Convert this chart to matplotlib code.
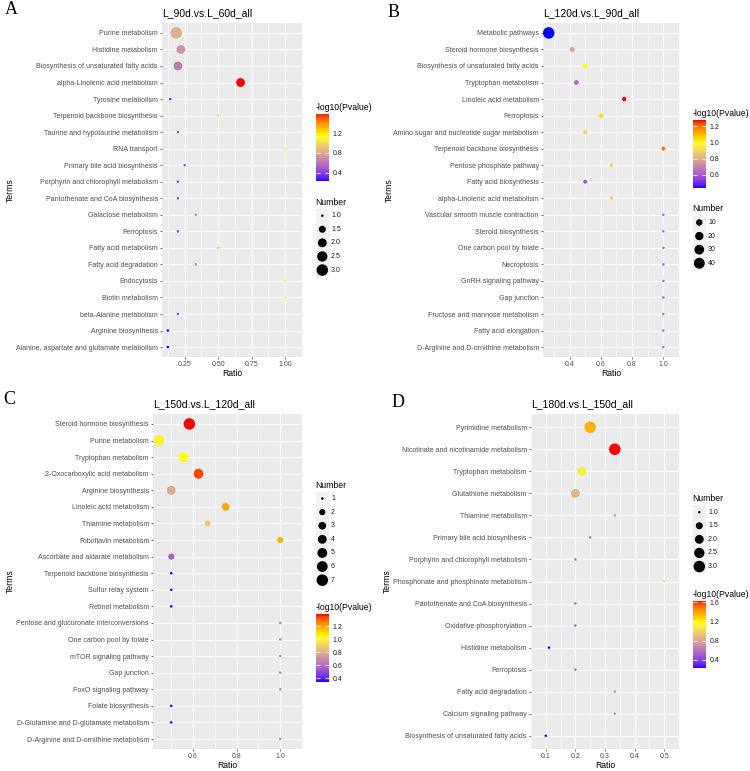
import numpy as np
import matplotlib
matplotlib.use('Agg')
import matplotlib.pyplot as plt
from matplotlib.colors import ListedColormap, Normalize
from matplotlib.cm import ScalarMappable
from matplotlib.patches import Rectangle

plt.rcParams['font.family'] = 'Liberation Sans'

W, H = 750, 771

# ---------------- data ----------------
A_title = "L_90d.vs.L_60d_all"
A_terms = ["Purine metabolism", "Histidine metabolism",
           "Biosynthesis of unsaturated fatty acids", "alpha-Linolenic acid metabolism",
           "Tyrosine metabolism", "Terpenoid backbone biosynthesis",
           "Taurine and hypotaurine metabolism", "RNA transport",
           "Primary bile acid biosynthesis", "Porphyrin and chlorophyll metabolism",
           "Pantothenate and CoA biosynthesis", "Galactose metabolism", "Ferroptosis",
           "Fatty acid metabolism", "Fatty acid degradation", "Endocytosis",
           "Biotin metabolism", "beta-Alanine metabolism", "Arginine biosynthesis",
           "Alanine, aspartate and glutamate metabolism"]
A_ratio = [0.1875, 0.222, 0.2, 0.667, 0.143, 0.5, 0.2, 1.0, 0.25, 0.2,
           0.2, 0.333, 0.2, 0.5, 0.333, 1.0, 1.0, 0.2, 0.125, 0.125]
A_number = [3, 2, 2, 2, 1, 1, 1, 1, 1, 1, 1, 1, 1, 1, 1, 1, 1, 1, 1, 1]
A_logp = [0.82, 0.72, 0.62, 1.59, 0.30, 0.92, 0.42, 1.10, 0.45, 0.42,
          0.42, 0.64, 0.42, 0.92, 0.64, 1.10, 1.10, 0.42, 0.23, 0.23]
A_xticks = [0.25, 0.50, 0.75, 1.00]
A_xlabels = ["0.25", "0.50", "0.75", "1.00"]
A_cticks = [0.4, 0.8, 1.2]
A_sizes = [1.0, 1.5, 2.0, 2.5, 3.0]
A_sizelabels = ["1.0", "1.5", "2.0", "2.5", "3.0"]

B_title = "L_120d.vs.L_90d_all"
B_terms = ["Metabolic pathways", "Steroid hormone biosynthesis",
           "Biosynthesis of unsaturated fatty acids", "Tryptophan metabolism",
           "Linoleic acid metabolism", "Ferroptosis",
           "Amino sugar and nucleotide sugar metabolism", "Terpenoid backbone biosynthesis",
           "Pentose phosphate pathway", "Fatty acid biosynthesis",
           "alpha-Linolenic acid metabolism", "Vascular smooth muscle contraction",
           "Steroid biosynthesis", "One carbon pool by folate", "Necroptosis",
           "GnRH signaling pathway", "Gap junction", "Fructose and mannose metabolism",
           "Fatty acid elongation", "D-Arginine and D-ornithine metabolism"]
B_ratio = [0.267, 0.417, 0.5, 0.444, 0.75, 0.6, 0.5, 1.0, 0.667, 0.5,
           0.667, 1.0, 1.0, 1.0, 1.0, 1.0, 1.0, 1.0, 1.0, 1.0]
B_number = [46, 5, 4, 4, 3, 3, 3, 2, 2, 2, 2, 1, 1, 1, 1, 1, 1, 1, 1, 1]
B_logp = [0.44, 0.78, 0.99, 0.64, 1.27, 1.04, 0.88, 1.20, 0.90, 0.58,
          0.90, 0.63, 0.63, 0.63, 0.63, 0.63, 0.63, 0.63, 0.63, 0.63]
B_xticks = [0.4, 0.6, 0.8, 1.0]
B_xlabels = ["0.4", "0.6", "0.8", "1.0"]
B_cticks = [0.6, 0.8, 1.0, 1.2]
B_sizes = [10, 20, 30, 40]
B_sizelabels = ["10", "20", "30", "40"]

C_title = "L_150d.vs.L_120d_all"
C_terms = ["Steroid hormone biosynthesis", "Purine metabolism", "Tryptophan metabolism",
           "2-Oxocarboxylic acid metabolism", "Arginine biosynthesis",
           "Linoleic acid metabolism", "Thiamine metabolism", "Riboflavin metabolism",
           "Ascorbate and aldarate metabolism", "Terpenoid backbone biosynthesis",
           "Sulfur relay system", "Retinol metabolism",
           "Pentose and glucuronate interconversions", "One carbon pool by folate",
           "mTOR signaling pathway", "Gap junction", "FoxO signaling pathway",
           "Folate biosynthesis", "D-Glutamine and D-glutamate metabolism",
           "D-Arginine and D-ornithine metabolism"]
C_ratio = [0.583, 0.444, 0.556, 0.625, 0.5, 0.75, 0.667, 1.0, 0.5, 0.5,
           0.5, 0.5, 1.0, 1.0, 1.0, 1.0, 1.0, 0.5, 0.5, 1.0]
C_number = [7, 6, 5, 5, 4, 3, 2, 2, 2, 1, 1, 1, 1, 1, 1, 1, 1, 1, 1, 1]
C_logp = [1.38, 0.99, 1.03, 1.34, 0.78, 1.20, 0.88, 1.17, 0.56, 0.34,
          0.34, 0.34, 0.66, 0.66, 0.66, 0.66, 0.66, 0.34, 0.34, 0.66]
C_xticks = [0.6, 0.8, 1.0]
C_xlabels = ["0.6", "0.8", "1.0"]
C_cticks = [0.4, 0.6, 0.8, 1.0, 1.2]
C_sizes = [1, 2, 3, 4, 5, 6, 7]
C_sizelabels = ["1", "2", "3", "4", "5", "6", "7"]

D_title = "L_180d.vs.L_150d_all"
D_terms = ["Pyrimidine metabolism", "Nicotinate and nicotinamide metabolism",
           "Tryptophan metabolism", "Glutathione metabolism", "Thiamine metabolism",
           "Primary bile acid biosynthesis", "Porphyrin and chlorophyll metabolism",
           "Phosphonate and phosphinate metabolism", "Pantothenate and CoA biosynthesis",
           "Oxidative phosphorylation", "Histidine metabolism", "Ferroptosis",
           "Fatty acid degradation", "Calcium signaling pathway",
           "Biosynthesis of unsaturated fatty acids"]
D_ratio = [0.25, 0.333, 0.222, 0.2, 0.333, 0.25, 0.2, 0.5, 0.2, 0.2,
           0.111, 0.2, 0.333, 0.333, 0.1]
D_number = [3, 3, 2, 2, 1, 1, 1, 1, 1, 1, 1, 1, 1, 1, 1]
D_logp = [1.35, 1.63, 1.10, 0.86, 0.72, 0.56, 0.50, 1.00, 0.50, 0.50,
          0.22, 0.50, 0.72, 0.72, 0.22]
D_xticks = [0.1, 0.2, 0.3, 0.4, 0.5]
D_xlabels = ["0.1", "0.2", "0.3", "0.4", "0.5"]
D_cticks = [0.4, 0.8, 1.2, 1.6]
D_sizes = [1.0, 1.5, 2.0, 2.5, 3.0]
D_sizelabels = ["1.0", "1.5", "2.0", "2.5", "3.0"]


# ---------------- colour scale (blue -> yellow -> red, Lab interpolation) ----------------
def lab_to_rgb(L, a, b):
    fy = (L + 16) / 116
    fx = fy + a / 500
    fz = fy - b / 200
    def finv(t):
        return np.where(t > 6 / 29, t ** 3, 3 * (6 / 29) ** 2 * (t - 4 / 29))
    X = 0.95047 * finv(fx)
    Y = finv(fy)
    Z = 1.08883 * finv(fz)
    r = 3.2406 * X - 1.5372 * Y - 0.4986 * Z
    g = -0.9689 * X + 1.8758 * Y + 0.0415 * Z
    bb = 0.0557 * X - 0.2040 * Y + 1.0570 * Z
    rgb = np.clip(np.stack([r, g, bb], -1), 0, 1)
    rgb = np.where(rgb <= 0.0031308, 12.92 * rgb, 1.055 * rgb ** (1 / 2.4) - 0.055)
    return np.clip(rgb, 0, 1)

lab_nodes = np.array([[32.30, 79.19, -107.86],   # blue
                      [97.14, -21.55, 94.48],    # yellow
                      [53.24, 80.09, 67.20]])    # red
pos_nodes = [0, 2 / 3, 1]
tt = np.linspace(0, 1, 256)
cmap = ListedColormap(lab_to_rgb(np.interp(tt, pos_nodes, lab_nodes[:, 0]),
                                 np.interp(tt, pos_nodes, lab_nodes[:, 1]),
                                 np.interp(tt, pos_nodes, lab_nodes[:, 2])))


def point_area(n, nmin, nmax):
    # ggplot scale_size: area proportional, range 1..6
    n = np.asarray(n, float)
    size = 1 + 5 * np.sqrt((n - nmin) / (nmax - nmin))
    d_px = 1.8 * size + 0.7
    return (d_px * 72 / 100) ** 2


fig = plt.figure(figsize=(W / 100, H / 100), dpi=100)
ov = fig.add_axes([0, 0, 1, 1], zorder=5)
ov.set_xlim(0, W)
ov.set_ylim(H, 0)
ov.axis('off')

TXT = '#4D4D4D'


def panel(box, letter, letter_xy, terms_x, title, terms, ratio, number, logp,
          xticks, xlabels, cticks, sizes, sizelabels, cbar_first):
    L, T, R, B = box
    ax = fig.add_axes([L / W, 1 - B / H, (R - L) / W, (B - T) / H])
    ax.set_facecolor('#EBEBEB')
    for s in ax.spines.values():
        s.set_visible(False)
    n = len(terms)
    ypos = np.arange(n)[::-1]
    norm = Normalize(min(logp), max(logp))
    nmin, nmax = min(number), max(number)
    ax.scatter(ratio, ypos, s=point_area(number, nmin, nmax), c=logp, cmap=cmap,
               norm=norm, linewidths=0, zorder=3)
    pad = 0.05 * (max(ratio) - min(ratio))
    ax.set_xlim(min(ratio) - pad, max(ratio) + pad)
    ax.set_ylim(-0.6, n - 0.4)
    ax.set_yticks(ypos)
    ax.set_yticklabels(terms)
    ax.set_xticks(xticks)
    ax.set_xticklabels(xlabels)
    step = xticks[1] - xticks[0]
    minor = np.arange(xticks[0] - step / 2, xticks[-1] + step, step)
    ax.set_xticks(minor, minor=True)
    ax.grid(True, which='major', color='white', lw=0.8)
    ax.grid(True, which='minor', axis='x', color='white', lw=0.4)
    ax.set_axisbelow(True)
    ax.tick_params(which='major', length=1.5, width=0.5, color='#333333',
                   labelsize=5, labelcolor=TXT, pad=1.5)
    ax.tick_params(which='minor', length=0)
    ax.set_title(title, loc='left', fontsize=7.5, pad=5)
    ax.set_xlabel('Ratio', fontsize=6.25)
    ax.xaxis.label.set_va('center')
    ax.xaxis.set_label_coords(0.5, -16.5 / (B - T))
    ax.set_ylabel('Terms', fontsize=6.25)
    ax.yaxis.label.set_va('center')
    ax.yaxis.set_label_coords((terms_x - L) / (R - L), 0.5)

    ov.text(letter_xy[0], letter_xy[1], letter, fontfamily='Liberation Serif',
            fontsize=13, ha='left', va='center')

    # legends, stacked and centred on the panel
    lx = R + 13.5
    key = 13.6
    h_cbar = 80
    h_size = 26.3 + (len(sizes) - 1) * key
    top = (T + B) / 2 - 1 - (h_cbar + 15 + h_size) / 2
    blocks = ['cbar', 'size'] if cbar_first else ['size', 'cbar']
    y = top
    for blk in blocks:
        ty = y + 6
        if blk == 'cbar':
            ov.text(lx, ty, '-log10(Pvalue)', fontsize=6.25, ha='left', va='center')
            bt = ty + 6.5
            cax = fig.add_axes([lx / W, 1 - (bt + 67.5) / H, 13 / W, 67.5 / H])
            cb = fig.colorbar(ScalarMappable(norm=norm, cmap=cmap), cax=cax, ticks=cticks)
            cb.outline.set_visible(False)
            cb.set_ticklabels(['%.1f' % v for v in cticks])
            cax.tick_params(direction='in', length=2.6, width=0.6, color='white',
                            left=True, right=True, labelsize=5, labelcolor='#1A1A1A', pad=3)
            y += h_cbar + 15
        else:
            ov.text(lx, ty, 'Number', fontsize=6.25, ha='left', va='center')
            ky = ty + 13.5 + np.arange(len(sizes)) * key
            ov.add_patch(Rectangle((lx, ky[0] - key / 2), key, key * len(sizes),
                                   facecolor='#F2F2F2', edgecolor='none'))
            ov.scatter(np.full(len(sizes), lx + key / 2), ky,
                       s=point_area(sizes, nmin, nmax), color='black', linewidths=0)
            for yy, lab in zip(ky, sizelabels):
                ov.text(lx + key + 2, yy, lab, fontsize=5, ha='left', va='center',
                        color='#1A1A1A')
            y += h_size + 15
    return ax


panel((162, 23, 302, 357), 'A', (5, 10), 10.5, A_title, A_terms, A_ratio, A_number,
      A_logp, A_xticks, A_xlabels, A_cticks, A_sizes, A_sizelabels, True)
panel((543, 23, 679, 357), 'B', (388, 12.5), 389.5, B_title, B_terms, B_ratio, B_number,
      B_logp, B_xticks, B_xlabels, B_cticks, B_sizes, B_sizelabels, True)
panel((153, 414, 302, 749), 'C', (3, 399), 10, C_title, C_terms, C_ratio, C_number,
      C_logp, C_xticks, C_xlabels, C_cticks, C_sizes, C_sizelabels, False)
panel((531, 414, 679, 749), 'D', (392, 402.5), 387.5, D_title, D_terms, D_ratio, D_number,
      D_logp, D_xticks, D_xlabels, D_cticks, D_sizes, D_sizelabels, False)

fig.savefig('out.png', dpi=100)
